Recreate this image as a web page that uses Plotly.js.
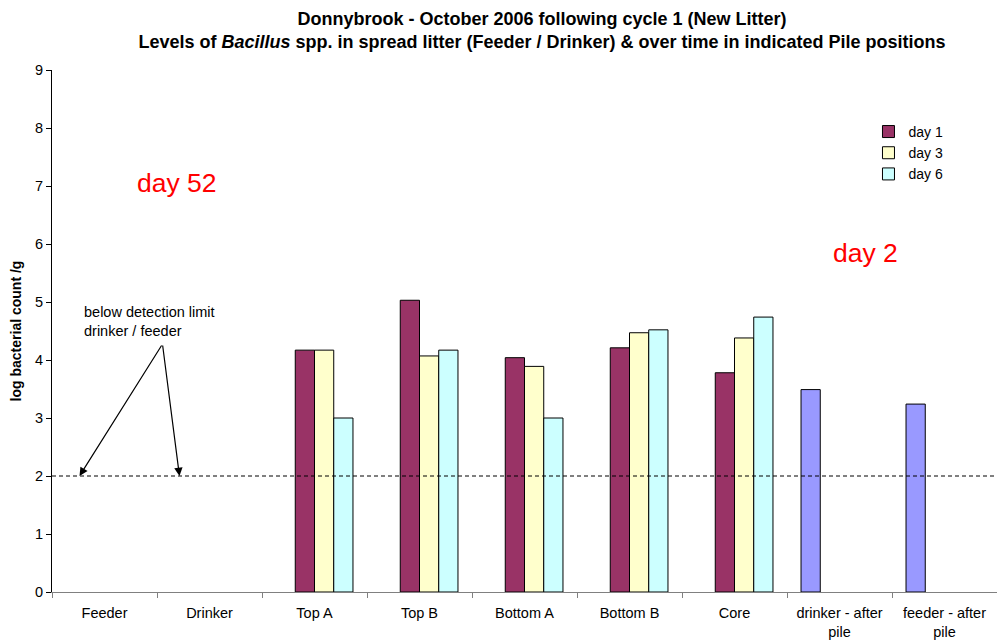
<!DOCTYPE html>
<html>
<head>
<meta charset="utf-8">
<script src="https://cdn.plot.ly/plotly-3.0.1.min.js"></script>
<style>html,body{margin:0;padding:0;background:#fff;}#chart{width:997px;height:641px;}</style>
</head>
<body>
<div id="chart"></div>
<script>
const categories = ["Feeder", "Drinker", "Top A", "Top B", "Bottom A", "Bottom B", "Core", "drinker - after<br>pile", "feeder - after<br>pile"];
const day1 = [null, null, 4.17, 5.03, 4.04, 4.21, 3.78, null, null];
const day3 = [null, null, 4.17, 4.07, 3.89, 4.47, 4.38, null, null];
const day6 = [null, null, 3.0, 4.17, 3.0, 4.52, 4.74, null, null];
const afterPile = [null, null, null, null, null, null, null, 3.49, 3.24];
const detectionLimit = 2;

const FONT = "Arial, 'Liberation Sans', sans-serif";
const outline = {color: "#000000", width: 1};

const traces = [
  {type: "bar", name: "after pile", x: categories, y: afterPile, showlegend: false,
   marker: {color: "#9999FF", line: outline}},
  {type: "bar", name: "day 1", x: categories, y: day1,
   marker: {color: "#993366", line: outline}},
  {type: "bar", name: "day 3", x: categories, y: day3,
   marker: {color: "#FFFFCC", line: outline}},
  {type: "bar", name: "day 6", x: categories, y: day6,
   marker: {color: "#CCFFFF", line: outline}}
];

const layout = {
  width: 997, height: 641,
  margin: {l: 52, r: 0, t: 70, b: 49},
  paper_bgcolor: "#ffffff", plot_bgcolor: "#ffffff",
  font: {family: FONT, color: "#000000", size: 14},
  barmode: "group", bargap: 0.267, bargroupgap: 0,
  title: {
    text: "<b>Donnybrook - October 2006 following cycle 1 (New Litter)<br>Levels of <i>Bacillus</i> spp. in spread litter (Feeder / Drinker) & over time in indicated Pile positions</b>",
    font: {family: FONT, size: 18, color: "#000000"},
    x: 542 / 997, xref: "container", xanchor: "center",
    y: 1 - 25 / 641, yref: "container", yanchor: "top"
  },
  xaxis: {
    type: "category", showline: true, linecolor: "#808080", linewidth: 1,
    ticks: "outside", tickson: "boundaries", ticklen: 5, tickcolor: "#808080",
    showgrid: false, zeroline: false, tickfont: {family: FONT, size: 14.5},
    ticklabelstandoff: 8
  },
  yaxis: {
    range: [0, 9], dtick: 1, showline: true, linecolor: "#000000", linewidth: 1,
    ticks: "outside", ticklen: 5, tickcolor: "#000000", showgrid: false, zeroline: false,
    tickfont: {family: FONT, size: 14.5},
    title: {text: "<b>log bacterial count /g</b>", font: {family: FONT, size: 14}, standoff: 10}
  },
  legend: {
    x: 0.864, y: 0.912, xanchor: "left", yanchor: "top",
    bgcolor: "rgba(0,0,0,0)", font: {family: FONT, size: 14}, tracegroupgap: 0
  },
  shapes: [
    {type: "line", xref: "paper", x0: 0, x1: 1, yref: "y", y0: detectionLimit, y1: detectionLimit,
     line: {color: "#000000", width: 1, dash: "4px,3px"}}
  ],
  annotations: [
    {text: "day 52", xref: "x", yref: "y", x: 0.686, y: 7.05, showarrow: false,
     font: {family: FONT, size: 26.5, color: "#FF0000"}},
    {text: "day 2", xref: "x", yref: "y", x: 7.247, y: 5.84, showarrow: false,
     font: {family: FONT, size: 26.5, color: "#FF0000"}},
    {text: "below detection limit<br>drinker / feeder", xref: "x", yref: "y", x: -0.215, y: 4.66,
     xanchor: "left", align: "left", showarrow: false, font: {family: FONT, size: 14.5}},
    {text: "", xref: "x", yref: "y", x: -0.238, y: detectionLimit, ax: 83, ay: -132,
     showarrow: true, arrowhead: 2, arrowsize: 1.4, arrowwidth: 1.2, arrowcolor: "#000000"},
    {text: "", xref: "x", yref: "y", x: 0.714, y: detectionLimit, ax: -17, ay: -132,
     showarrow: true, arrowhead: 2, arrowsize: 1.4, arrowwidth: 1.2, arrowcolor: "#000000"}
  ]
};

Plotly.newPlot("chart", traces, layout, {displayModeBar: false, responsive: false});
</script>
</body>
</html>
